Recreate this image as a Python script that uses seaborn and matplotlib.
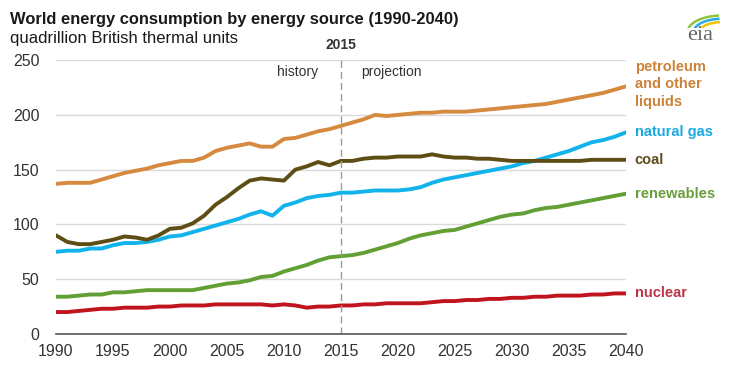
import numpy as np
import pandas as pd
import seaborn as sns
import matplotlib.pyplot as plt
from matplotlib.patches import Arc

# Data (quadrillion Btu)
years = list(range(1990, 2041))

petroleum = [137, 138, 138, 138, 141, 144, 147, 149, 151, 154, 156, 158, 158, 161, 167, 170,
             172, 174, 171, 171, 178, 179, 182, 185, 187, 190,
             193, 196, 200, 199, 200, 201, 202, 202, 203, 203, 203, 204, 205, 206, 207, 208,
             209, 210, 212, 214, 216, 218, 220, 223, 226]
natural_gas = [75, 76, 76, 78, 78, 81, 83, 83, 84, 86, 89, 90, 93, 96, 99, 102,
               105, 109, 112, 108, 117, 120, 124, 126, 127, 129,
               129, 130, 131, 131, 131, 132, 134, 138, 141, 143, 145, 147, 149, 151, 153, 156,
               158, 161, 164, 167, 171, 175, 177, 180, 184]
coal = [90, 84, 82, 82, 84, 86, 89, 88, 86, 90, 96, 97, 101, 108, 118, 125,
        133, 140, 142, 141, 140, 150, 153, 157, 154, 158,
        158, 160, 161, 161, 162, 162, 162, 164, 162, 161, 161, 160, 160, 159, 158, 158,
        158, 158, 158, 158, 158, 159, 159, 159, 159]
renewables = [34, 34, 35, 36, 36, 38, 38, 39, 40, 40, 40, 40, 40, 42, 44, 46,
              47, 49, 52, 53, 57, 60, 63, 67, 70, 71,
              72, 74, 77, 80, 83, 87, 90, 92, 94, 95, 98, 101, 104, 107, 109, 110,
              113, 115, 116, 118, 120, 122, 124, 126, 128]
nuclear = [20, 20, 21, 22, 23, 23, 24, 24, 24, 25, 25, 26, 26, 26, 27, 27,
           27, 27, 27, 26, 27, 26, 24, 25, 25, 26,
           26, 27, 27, 28, 28, 28, 28, 29, 30, 30, 31, 31, 32, 32, 33, 33,
           34, 34, 35, 35, 35, 36, 36, 37, 37]

sources = ['petroleum', 'natural gas', 'coal', 'renewables', 'nuclear']
line_colors = ['#d68a3f', '#12b3ea', '#5e4d14', '#62a035', '#c0141f']
label_texts = ['petroleum\nand other\nliquids', 'natural gas', 'coal', 'renewables', 'nuclear']
label_colors = ['#cc8238', '#1ba9e0', '#5e4d1c', '#6a9e3c', '#b8384a']
label_y = [226, 184, 159, 128, 37]

df = pd.DataFrame({'year': years, 'petroleum': petroleum, 'natural gas': natural_gas,
                   'coal': coal, 'renewables': renewables, 'nuclear': nuclear})
df_long = df.melt(id_vars='year', var_name='source', value_name='value')

sns.set_style('white')
plt.rcParams['font.family'] = ['Liberation Sans', 'DejaVu Sans']

fig = plt.figure(figsize=(7.31, 3.69), dpi=100)
ax = fig.add_axes([0.0766, 0.095, 0.7794, 0.742])

ax.set_axisbelow(True)
ax.yaxis.grid(True, color='#d9d9d9', linewidth=1)
sns.lineplot(data=df_long, x='year', y='value', hue='source', hue_order=sources,
             palette=line_colors, linewidth=2.8, legend=False, ax=ax)

ax.set_xlim(1990, 2040)
ax.set_ylim(0, 250)
ax.set_xticks(range(1990, 2041, 5))
ax.set_yticks(range(0, 251, 50))
ax.set_xlabel('')
ax.set_ylabel('')
for s in ['top', 'right', 'left']:
    ax.spines[s].set_visible(False)
ax.spines['bottom'].set_color('#555555')
ax.spines['bottom'].set_linewidth(1.2)
ax.tick_params(axis='x', direction='out', length=5, width=1, color='#555555',
               labelsize=11.5, labelcolor='#333333', pad=2)
ax.tick_params(axis='y', length=0, labelsize=11.5, labelcolor='#333333', pad=12)

# history / projection divider
ax.axvline(2015, color='#9a9a9a', linestyle=(0, (5, 3)), linewidth=1)
ax.text(2015, 257, '2015', ha='center', va='bottom', fontsize=10, fontweight='bold', color='#333333')
ax.text(2013.0, 239, 'history', ha='right', va='center', fontsize=10, color='#333333')
ax.text(2016.8, 239, 'projection', ha='left', va='center', fontsize=10, color='#333333')

# right-hand series labels
for txt, col, yv in zip(label_texts, label_colors, label_y):
    if '\n' in txt:
        ax.text(1.016, 1.0, txt, transform=ax.transAxes, ha='left', va='top', fontsize=10.5,
                fontweight='bold', color=col, linespacing=1.3)
    else:
        ax.text(2040.8, yv, txt, ha='left', va='center', fontsize=10.5, fontweight='bold', color=col)

# titles
fig.text(0.014, 0.948, 'World energy consumption by energy source (1990-2040)',
         fontsize=11.9, fontweight='bold', color='#1a1a1a', va='center')
fig.text(0.014, 0.897, 'quadrillion British thermal units', fontsize=12, color='#1a1a1a', va='center')

# eia logo
fig.text(0.958, 0.905, 'eia', family='Liberation Serif', fontsize=16, color='#666666',
         ha='center', va='center')
logo_ax = fig.add_axes([0.935, 0.925, 0.055, 0.06])
logo_ax.set_xlim(0, 1)
logo_ax.set_ylim(0, 1)
logo_ax.axis('off')
for r, c in zip([0.75, 0.6, 0.45], ['#8cc63f', '#29abe2', '#f2c500']):
    logo_ax.add_patch(Arc((0.95, -0.2), 2 * r + 0.2, 2 * r, theta1=95, theta2=175, color=c, linewidth=1.8))

fig.savefig('out.png', dpi=100)
